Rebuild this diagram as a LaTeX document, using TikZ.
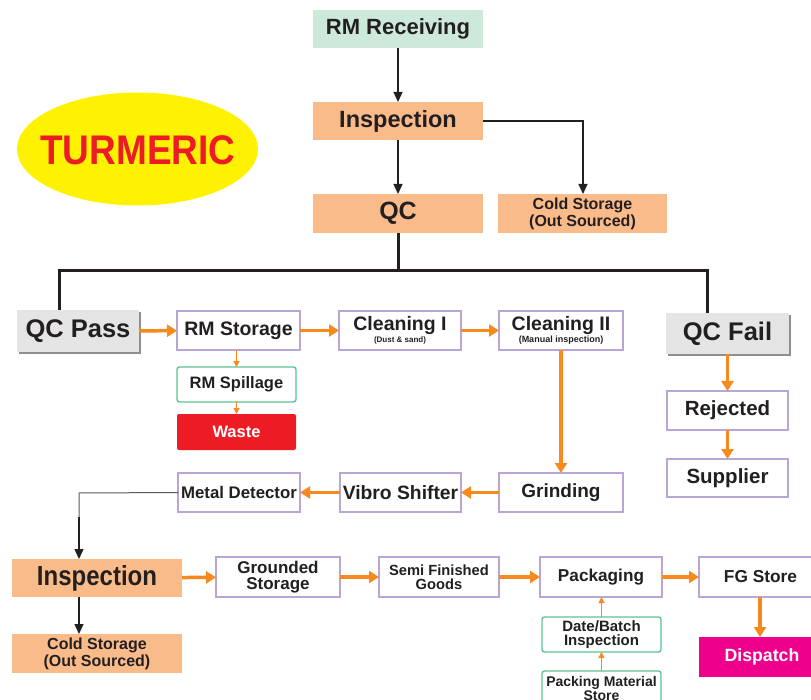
\documentclass[tikz,border=0pt]{standalone}
\usepackage{fontspec}
\usepackage{graphicx}
\setmainfont{Liberation Sans}
\usetikzlibrary{arrows.meta,shapes.geometric,shadows,calc}
\definecolor{cgreenfill}{HTML}{CDE9D9}
\definecolor{cpeach}{HTML}{FABB8B}
\definecolor{cgray}{HTML}{E5E5E5}
\definecolor{cpurple}{HTML}{B9A6D5}
\definecolor{cgreenline}{HTML}{5CC494}
\definecolor{cred}{HTML}{ED1C24}
\definecolor{cmagenta}{HTML}{EC008C}
\definecolor{cyellow}{HTML}{FFF200}
\definecolor{corange}{HTML}{F7891F}
\definecolor{cdark}{HTML}{231F20}
\newcommand\fs[1]{\fontsize{#1}{#1}\selectfont}
\newcommand\mybox[7]{\node[#1, minimum width={(#5-#3)*1pt}, minimum height={(#6-#4)*1pt}] (#2) at ({(#3+#5)/2},{(#4+#6)/2}) {#7};}
\tikzset{
  every node/.style={inner sep=0pt, outer sep=0pt, align=center, text=cdark, font=\bfseries},
  fsz/.style={font=\bfseries\fontsize{#1}{#1}\selectfont},
  fsl/.style 2 args={font=\bfseries\fontsize{#1}{#2}\selectfont},
  peachbox/.style={fill=cpeach},
  greenfillbox/.style={fill=cgreenfill},
  purplebox/.style={draw=cpurple, fill=white, line width=2.6pt},
  greenbox/.style={draw=cgreenline, fill=white, line width=1.4pt, rounded corners=2.5pt},
  graybox/.style={fill=cgray, drop shadow={shadow xshift=2pt, shadow yshift=-2.5pt, fill=black!55, opacity=0.8}},
  redbox/.style={fill=cred, rounded corners=2pt, text=white},
  magbox/.style={fill=cmagenta, text=white},
  blackarrow/.style={draw=cdark, line width=1.3pt, -{Triangle[length=10pt,width=9pt]}},
  busline/.style={draw=cdark, line width=3pt},
  orangearrow/.style={draw=corange, line width=3.5pt, -{Triangle[length=10pt,width=12pt]}},
  thinorange/.style={draw=corange, line width=1.2pt, -{Triangle[length=6pt,width=6pt]}},
}
\begin{document}
\begin{tikzpicture}[x=1pt,y=-1pt]
\useasboundingbox (0,0) rectangle (811,700);
% top section
\mybox{greenfillbox, fsz=22}{recv}{313}{10}{483}{48}{RM Receiving}
\mybox{peachbox, fsz=23.5}{insp1}{313}{102}{483}{140}{Inspection}
\mybox{peachbox, fsz=25}{qc}{313}{194}{483}{233}{QC}
\mybox{peachbox, fsl={16}{17}}{cold1}{498}{194}{667}{233}{Cold Storage\\(Out Sourced)}
\fill[cyellow] (137.5,149) ellipse [x radius=120.5, y radius=56.5];
\node[text=cred, fsz=37] (turm) at (138,150) {\scalebox{1}[1.12]{TURMERIC}};
\draw[blackarrow] (recv) -- (insp1);
\draw[blackarrow] (insp1) -- (qc);
\coordinate (coldturn) at (583,122);
\draw[blackarrow] (insp1.east) -| (cold1.north -| coldturn);
% QC split
\mybox{graybox, fsz=25.5}{qcpass}{17}{310}{139}{352}{QC Pass}
\mybox{graybox, fsz=25.5}{qcfail}{666}{313}{789}{354}{QC Fail}
\coordinate (busL) at (59,271);
\coordinate (busR) at (707,271);
\draw[busline] (qc.south) -- (qc.south |- busL);
\draw[busline] (qcpass.north -| busL) -- (busL) -- (busR) -- (qcfail.north -| busR);
% QC pass row
\mybox{purplebox, fsz=19.5}{rmstor}{177}{311}{300}{350}{RM Storage}
\mybox{purplebox, fsl={19.5}{12}}{clean1}{339}{311}{461}{350}{Cleaning I\\{\fs{8}(Dust \& sand)}}
\mybox{purplebox, fsl={19.5}{12}}{clean2}{499}{311}{623}{350}{Cleaning II\\{\fs{9}(Manual inspection)}}
\draw[orangearrow] (qcpass) -- (rmstor);
\draw[orangearrow] (rmstor) -- (clean1);
\draw[orangearrow] (clean1) -- (clean2);
\mybox{greenbox, fsz=16.5}{spill}{177}{367}{296}{402}{RM Spillage}
\mybox{redbox, fsz=16.5}{waste}{177}{414}{296}{450}{\textcolor{white}{Waste}}
\draw[thinorange] (rmstor.south -| spill) -- (spill);
\draw[thinorange] (spill) -- (waste);
% QC fail column
\mybox{purplebox, fsz=20.5}{rej}{667}{391}{788}{430}{Rejected}
\mybox{purplebox, fsz=20.5}{supp}{667}{459}{788}{497}{Supplier}
\draw[orangearrow] (qcfail) -- (rej);
\draw[orangearrow] (rej) -- (supp);
% grinding row
\mybox{purplebox, fsz=19}{grind}{499}{473}{623}{512}{Grinding}
\mybox{purplebox, fsz=19.3}{vibro}{340}{473}{461}{512}{Vibro Shifter}
\mybox{purplebox, fsz=16.8}{metal}{178}{473}{300}{512}{Metal Detector}
\draw[orangearrow] (clean2) -- (grind);
\draw[orangearrow] (grind) -- (vibro);
\draw[orangearrow] (vibro) -- (metal);
% bottom section
\mybox{peachbox, fsz=24}{insp2}{12}{559}{182}{597}{\scalebox{1}[1.15]{Inspection}}
\mybox{peachbox, fsl={16}{17}}{cold2}{12}{634}{182}{673}{Cold Storage\\(Out Sourced)}
\coordinate (mdturn) at (79,493);
\coordinate (mdmid) at (79,518);
\draw[draw=black!65, line width=1pt] (metal.west) -- (mdturn) -- (mdmid);
\draw[blackarrow] ($(mdmid)+(0,-1)$) -- (insp2.north -| mdturn);
\draw[blackarrow] (insp2.south -| mdturn) -- (cold2.north -| mdturn);
\mybox{purplebox, fsl={17}{15.5}}{ground}{216}{557}{340}{597}{Grounded\\Storage}
\mybox{purplebox, fsl={14.7}{14}}{semi}{379}{557}{499}{597}{Semi Finished\\Goods}
\mybox{purplebox, fsz=17.2}{pack}{540}{557}{662}{597}{Packaging}
\mybox{purplebox, fsz=17.3}{fg}{699}{557}{822}{597}{FG Store}
\draw[orangearrow] (insp2) -- (ground);
\draw[orangearrow] (ground) -- (semi);
\draw[orangearrow] (semi) -- (pack);
\draw[orangearrow] (pack) -- (fg);
\mybox{magbox, fsz=17.7}{disp}{699}{637}{825}{677}{\textcolor{white}{Dispatch}}
\coordinate (fgx) at (760,0);
\draw[orangearrow] (fg.south -| fgx) -- (disp.north -| fgx);
\mybox{greenbox, fsl={15}{14.5}}{date}{542}{617}{661}{652}{Date/Batch\\Inspection}
\mybox{greenbox, fsl={14}{12.5}}{pms}{542}{671}{661}{706}{Packing Material\\Store}
\draw[thinorange] (date) -- (pack.south -| date);
\draw[thinorange] (pms) -- (date);
\end{tikzpicture}
\end{document}
